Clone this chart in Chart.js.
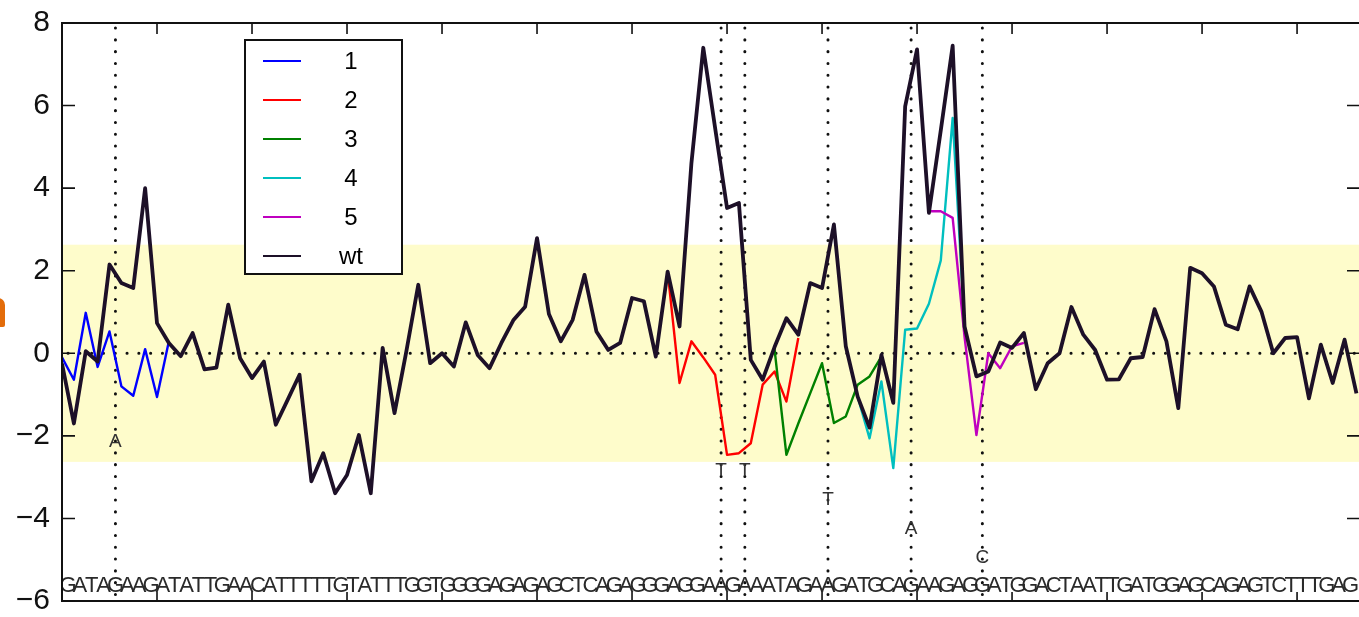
<!DOCTYPE html>
<html>
<head>
<meta charset="utf-8">
<script src="https://cdn.jsdelivr.net/npm/chart.js@4.4.0/dist/chart.umd.min.js"></script>
<style>
  html, body { margin: 0; padding: 0; background: #fff; overflow: hidden; }
  #wrap { position: relative; width: 1359px; height: 617px; overflow: hidden; }
  #plot { position: absolute; left: 0; top: 0; }
  #edge { position: absolute; left: -8px; top: 298px; width: 12.5px; height: 29px; background: #e36c0a; border-radius: 0 7px 2px 0; }
</style>
</head>
<body>
<div id="wrap">
  <canvas id="plot" width="1366" height="617"></canvas>
  <div id="edge"></div>
</div>
<script>
// sequence under the x axis, one base per position
const sequence = 'GATAGAAGATATTGAACATTTTTGTATTTGGTGGGGAGAGAGCTCAGAGGGAGGAAGAAATAGAAGATGCAGAAGAGGATGGACTAATTGATGGAGCAGAGTCTTTGAG';

// wild type, positions 0..109
const wt = [
  -0.25, -1.7, 0.05, -0.2, 2.15, 1.7, 1.58, 4.0, 0.73, 0.25,
  -0.07, 0.49, -0.39, -0.35, 1.18, -0.12, -0.6, -0.2, -1.73, -1.13,
  -0.52, -3.1, -2.42, -3.39, -2.95, -1.98, -3.39, 0.13, -1.45, 0.05,
  1.66, -0.24, 0.0, -0.32, 0.75, -0.04, -0.36, 0.25, 0.8, 1.13,
  2.79, 0.95, 0.29, 0.81, 1.9, 0.53, 0.08, 0.25, 1.34, 1.26,
  -0.08, 1.98, 0.65, 4.6, 7.4, 5.45, 3.52, 3.64, -0.16, -0.64,
  0.15, 0.85, 0.45, 1.7, 1.58, 3.12, 0.17, -1.05, -1.8, -0.04,
  -1.2, 5.98, 7.36, 3.4, 5.4, 7.45, 0.65, -0.56, -0.44, 0.26,
  0.13, 0.49, -0.87, -0.24, 0.0, 1.12, 0.45, 0.08, -0.64, -0.63,
  -0.12, -0.09, 1.07, 0.29, -1.33, 2.07, 1.94, 1.62, 0.69, 0.58,
  1.62, 1.01, 0.0, 0.37, 0.39, -1.09, 0.21, -0.72, 0.33, -0.97
];

// mutants: only the part where they leave the wild type
const mut1Start = 0;
const mut1 = [-0.1, -0.64, 0.98, -0.33, 0.53, -0.8, -1.03, 0.1, -1.06, 0.29];
const mut2Start = 51;
const mut2 = [1.98, -0.72, 0.29, -0.1, -0.52, -2.46, -2.42, -2.18, -0.76, -0.44, -1.17, 0.37];
const mut3Start = 60;
const mut3 = [0.1, -2.46, -1.7, -0.97, -0.24, -1.69, -1.53, -0.76, -0.56, -0.08];
const mut4Start = 67;
const mut4 = [-1.05, -2.06, -0.68, -2.78, 0.57, 0.6, 1.2, 2.25, 5.7, 0.65];
const mut5Start = 73;
const mut5 = [3.44, 3.44, 3.28, 0.4, -1.98, 0.0, -0.36, 0.17, 0.25];

const seriesNames = ['1', '2', '3', '4', '5', 'wt'];
const seriesColors = ['#0000ff', '#ff0000', '#008000', '#00bfbf', '#bf00bf', '#1d1028'];

// mutated bases: position in sequence, new base, height of its label
const mutationSites = [4, 55, 57, 64, 71, 77];
const mutationBases = ['A', 'T', 'T', 'T', 'A', 'C'];
const mutationLabelY = [-2.15, -2.85, -2.85, -3.55, -4.25, -4.95];

const yTicks = [-6, -4, -2, 0, 2, 4, 6, 8];
const xTicks = [8, 16, 24, 32, 40, 48, 56, 64, 72, 80, 88, 96, 104];
const bandLimit = 2.63;
const seqLabelY = -5.63;

const pts = (start, vals) => vals.map((v, k) => ({ x: start + k, y: v }));

const FONT = 'Liberation Sans, Arial, sans-serif';

const decor = {
  id: 'decor',
  beforeDatasetsDraw(chart) {
    const { ctx, chartArea: a, scales: { x, y } } = chart;
    ctx.save();
    // yellow band
    const yt = y.getPixelForValue(bandLimit);
    const yb = y.getPixelForValue(-bandLimit);
    ctx.fillStyle = '#fefccb';
    ctx.fillRect(a.left, yt, a.right - a.left, yb - yt);
    // dotted lines
    ctx.strokeStyle = '#111';
    ctx.lineWidth = 3;
    ctx.lineCap = 'round';
    ctx.setLineDash([0.1, 11.7]);
    ctx.beginPath();
    const y0 = y.getPixelForValue(0);
    ctx.moveTo(a.left + 6, y0);
    ctx.lineTo(a.right, y0);
    mutationSites.forEach(s => {
      const px = x.getPixelForValue(s + 0.5);
      ctx.moveTo(px, a.top + 5);
      ctx.lineTo(px, a.bottom);
    });
    ctx.stroke();
    ctx.restore();
  },
  afterDraw(chart) {
    const { ctx, chartArea: a, scales: { x, y } } = chart;
    ctx.save();
    // mutated base labels
    ctx.fillStyle = '#333';
    ctx.font = '19px ' + FONT;
    ctx.textAlign = 'center';
    ctx.textBaseline = 'middle';
    mutationSites.forEach((s, k) => {
      ctx.fillText(mutationBases[k], x.getPixelForValue(s + 0.5), y.getPixelForValue(mutationLabelY[k]));
    });
    // sequence letters
    ctx.save();
    ctx.beginPath();
    ctx.rect(a.left, a.top, a.right - a.left, a.bottom - a.top);
    ctx.clip();
    ctx.fillStyle = '#2a2a2a';
    ctx.font = '22px ' + FONT;
    for (let i = 0; i < sequence.length; i++) {
      ctx.fillText(sequence[i], x.getPixelForValue(i + 0.5), y.getPixelForValue(seqLabelY));
    }
    ctx.restore();
    // frame and inward ticks
    ctx.strokeStyle = '#111';
    ctx.lineWidth = 2;
    ctx.strokeRect(a.left, a.top, a.right - a.left, a.bottom - a.top);
    ctx.lineWidth = 1.6;
    ctx.beginPath();
    yTicks.forEach(v => {
      const py = y.getPixelForValue(v);
      ctx.moveTo(a.left, py); ctx.lineTo(a.left + 13, py);
      ctx.moveTo(a.right, py); ctx.lineTo(a.right - 13, py);
    });
    xTicks.forEach(v => {
      const px = x.getPixelForValue(v);
      ctx.moveTo(px, a.top); ctx.lineTo(px, a.top + 11);
      ctx.moveTo(px, a.bottom); ctx.lineTo(px, a.bottom - 9);
    });
    ctx.stroke();
    // legend
    const bx = a.left + 183, by = a.top + 17, bw = 157, bh = 234;
    ctx.fillStyle = '#fff';
    ctx.fillRect(bx, by, bw, bh);
    ctx.lineWidth = 2;
    ctx.strokeStyle = '#111';
    ctx.strokeRect(bx, by, bw, bh);
    ctx.font = '24px ' + FONT;
    ctx.textAlign = 'center';
    ctx.textBaseline = 'middle';
    seriesNames.forEach((name, k) => {
      const ry = by + 21 + k * 39;
      ctx.strokeStyle = seriesColors[k];
      ctx.lineWidth = 2.2;
      ctx.beginPath();
      ctx.moveTo(bx + 18, ry); ctx.lineTo(bx + 56, ry);
      ctx.stroke();
      ctx.fillStyle = '#000';
      ctx.fillText(name, bx + 106, ry + 1);
    });
    ctx.restore();
  }
};

const mutants = [[mut1Start, mut1], [mut2Start, mut2], [mut3Start, mut3], [mut4Start, mut4], [mut5Start, mut5]];
const datasets = mutants.map(([start, vals], k) => ({
  label: seriesNames[k],
  data: pts(start, vals),
  borderColor: seriesColors[k],
  borderWidth: 2.4,
  order: 5 - k
}));
datasets.push({
  label: 'wt',
  data: pts(0, wt),
  borderColor: seriesColors[5],
  borderWidth: 3.8,
  order: 0
});

new Chart(document.getElementById('plot').getContext('2d'), {
  type: 'line',
  data: { datasets },
  options: {
    responsive: false,
    animation: false,
    events: [],
    layout: { padding: { top: 23, bottom: 16, left: 0, right: 6 } },
    plugins: { legend: { display: false }, tooltip: { enabled: false } },
    elements: { point: { radius: 0 }, line: { tension: 0, borderJoinStyle: 'round', fill: false } },
    scales: {
      x: {
        type: 'linear', min: 0, max: 109.3,
        grid: { display: false, drawTicks: false },
        border: { display: false },
        ticks: { display: false },
        afterBuildTicks: s => { s.ticks = xTicks.map(v => ({ value: v })); },
        afterFit: s => { s.height = 0; s.paddingLeft = 0; s.paddingRight = 0; }
      },
      y: {
        min: -6, max: 8,
        grid: { display: false, drawTicks: false },
        border: { display: false },
        ticks: {
          padding: 12,
          color: '#111',
          font: { family: FONT, size: 30, lineHeight: 1 },
          callback: v => String(v).replace('-', '\u2212')
        },
        afterBuildTicks: s => { s.ticks = yTicks.map(v => ({ value: v })); },
        afterFit: s => { s.width = 62; s.paddingTop = 0; s.paddingBottom = 0; }
      }
    }
  },
  plugins: [decor]
});
</script>
</body>
</html>
